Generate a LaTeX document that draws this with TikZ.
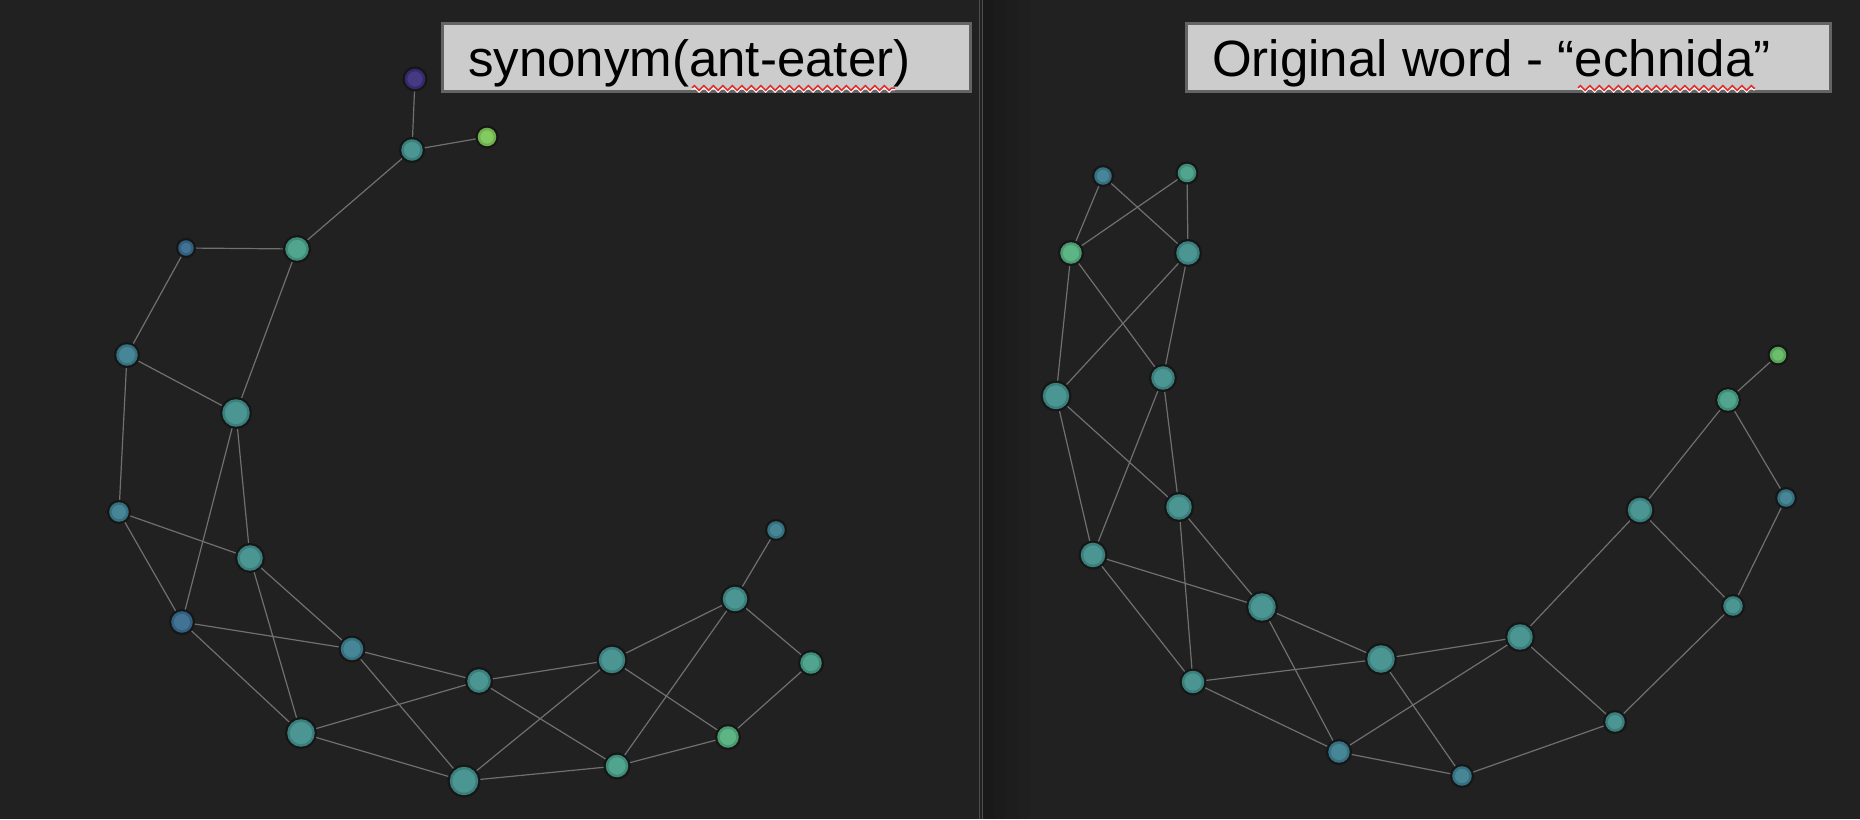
\documentclass[tikz,border=0pt]{standalone}
\usepackage{fontspec}
\setmainfont{Liberation Sans}
\usetikzlibrary{backgrounds,decorations.pathmorphing}

\definecolor{bg}{RGB}{33,33,33}
\definecolor{bgdark}{RGB}{25,25,25}
\definecolor{halo}{RGB}{22,22,22}
\definecolor{edgegray}{RGB}{112,112,112}
\definecolor{divider}{RGB}{78,78,78}
\definecolor{boxgray}{RGB}{204,204,204}
\definecolor{boxedge}{RGB}{100,100,100}
\definecolor{spellred}{RGB}{225,45,45}
\definecolor{vpurple}{RGB}{60,48,124}
\definecolor{vblue}{RGB}{56,108,142}
\definecolor{vblueteal}{RGB}{60,128,146}
\definecolor{vteal}{RGB}{66,144,140}
\definecolor{vgreenteal}{RGB}{72,160,136}
\definecolor{vgreen}{RGB}{84,176,126}
\definecolor{vlime}{RGB}{124,200,88}
\definecolor{vlimetwo}{RGB}{100,186,100}

\tikzset{
	word/.style 2 args={circle, inner sep=0pt, minimum size=2*#2, fill=#1!95!white,
		draw=#1!88!black, line width=2.5pt, preaction={draw=halo, line width=7pt}},
	link/.style={draw=edgegray, line width=1.2pt},
	titlebox/.style={fill=boxgray, draw=boxedge, line width=3pt},
	titletext/.style={anchor=base west, inner sep=0pt, font=\fontsize{51}{60}\selectfont},
	squiggle/.style={line width=1.5pt, decorate,
		decoration={zigzag, segment length=9.5pt, amplitude=2.4pt}},
}

\begin{document}
\begin{tikzpicture}[x=1pt, y=-1pt]

	\useasboundingbox (0,0) rectangle (1860,819);

	% synonym graph (left)
	\node[word={vpurple}{9}]     (s1)  at (415,79)  {};
	\node[word={vteal}{9.5}]     (s2)  at (412,150) {};
	\node[word={vlime}{8}]       (s3)  at (487,137) {};
	\node[word={vgreenteal}{10.5}] (s4) at (297,249) {};
	\node[word={vblue}{6.5}]     (s5)  at (186,248) {};
	\node[word={vblueteal}{9.5}] (s6)  at (127,355) {};
	\node[word={vteal}{12.5}]    (s7)  at (236,413) {};
	\node[word={vblueteal}{8.5}] (s8)  at (119,512) {};
	\node[word={vteal}{11.5}]    (s9)  at (250,558) {};
	\node[word={vblue}{9.5}]     (s10) at (182,622) {};
	\node[word={vblueteal}{10}]  (s11) at (352,649) {};
	\node[word={vteal}{10.5}]    (s12) at (479,681) {};
	\node[word={vteal}{12}]      (s13) at (612,660) {};
	\node[word={vteal}{11}]      (s14) at (735,599) {};
	\node[word={vblueteal}{7.5}] (s15) at (776,530) {};
	\node[word={vgreenteal}{9.5}] (s16) at (811,663) {};
	\node[word={vgreen}{9.5}]    (s17) at (728,737) {};
	\node[word={vgreenteal}{10}] (s18) at (617,766) {};
	\node[word={vteal}{13}]      (s19) at (464,781) {};
	\node[word={vteal}{12.5}]    (s20) at (301,733) {};

	% echnida graph (right)
	\node[word={vblueteal}{7.5}] (e1)  at (1103,176) {};
	\node[word={vgreenteal}{8}]  (e2)  at (1187,173) {};
	\node[word={vgreen}{9.5}]    (e3)  at (1071,253) {};
	\node[word={vteal}{10.5}]    (e4)  at (1188,253) {};
	\node[word={vteal}{12}]      (e5)  at (1056,396) {};
	\node[word={vteal}{10.5}]    (e6)  at (1163,378) {};
	\node[word={vteal}{11.5}]    (e7)  at (1179,507) {};
	\node[word={vteal}{11}]      (e8)  at (1093,555) {};
	\node[word={vteal}{12.5}]    (e9)  at (1262,607) {};
	\node[word={vteal}{10}]      (e10) at (1193,682) {};
	\node[word={vteal}{12.5}]    (e11) at (1381,659) {};
	\node[word={vblueteal}{9.5}] (e12) at (1339,752) {};
	\node[word={vblueteal}{8.5}] (e13) at (1462,776) {};
	\node[word={vteal}{11.5}]    (e14) at (1520,637) {};
	\node[word={vteal}{8.5}]     (e15) at (1615,722) {};
	\node[word={vteal}{11}]      (e16) at (1640,510) {};
	\node[word={vteal}{8.5}]     (e17) at (1733,606) {};
	\node[word={vblueteal}{7.5}] (e18) at (1786,498) {};
	\node[word={vgreenteal}{9.5}] (e19) at (1728,400) {};
	\node[word={vlimetwo}{7}]    (e20) at (1778,355) {};

	\begin{scope}[on background layer]
		\fill[bg] (0,0) rectangle (1860,819);
		% darker strip right of the divider
		\fill[bgdark!100!bg] (982,0) rectangle (994,819);
		\fill[bgdark!75!bg] (994,0) rectangle (1006,819);
		\fill[bgdark!50!bg] (1006,0) rectangle (1018,819);
		\fill[bgdark!25!bg] (1018,0) rectangle (1030,819);
		\draw[divider, line width=1pt] (979,0) -- (979,819);
		\draw[divider, line width=1pt] (982,0) -- (982,819);

		\draw[link] (s1) -- (s2) (s2) -- (s3) (s2) -- (s4) (s5) -- (s4)
			(s5) -- (s6) (s4) -- (s7) (s6) -- (s7) (s6) -- (s8)
			(s7) -- (s10) (s7) -- (s9) (s8) -- (s9) (s8) -- (s10)
			(s9) -- (s11) (s9) -- (s20) (s10) -- (s11) (s10) -- (s20)
			(s11) -- (s12) (s11) -- (s19) (s20) -- (s12) (s20) -- (s19)
			(s12) -- (s13) (s12) -- (s18) (s13) -- (s14) (s13) -- (s19)
			(s13) -- (s17) (s14) -- (s15) (s14) -- (s16) (s14) -- (s18)
			(s16) -- (s17) (s17) -- (s18) (s19) -- (s18);

		\draw[link] (e1) -- (e3) (e1) -- (e4) (e2) -- (e3) (e2) -- (e4)
			(e3) -- (e5) (e3) -- (e6) (e4) -- (e5) (e4) -- (e6)
			(e5) -- (e8) (e5) -- (e7) (e6) -- (e8) (e6) -- (e7)
			(e7) -- (e9) (e7) -- (e10) (e8) -- (e9) (e8) -- (e10)
			(e9) -- (e11) (e9) -- (e12) (e10) -- (e11) (e10) -- (e12)
			(e11) -- (e14) (e11) -- (e13) (e14) -- (e12) (e14) -- (e16)
			(e14) -- (e15) (e12) -- (e13) (e13) -- (e15) (e15) -- (e17)
			(e16) -- (e17) (e16) -- (e19) (e19) -- (e20) (e19) -- (e18)
			(e18) -- (e17);
	\end{scope}

	% title boxes
	\draw[titlebox] (442,23) rectangle (970,91);
	\node[titletext] (syntitle) at (468,76) {synonym(ant-eater)};
	\draw[squiggle, white] (692,89.5) -- (895,89.5);
	\draw[squiggle, spellred] (692,88) -- (895,88);

	\draw[titlebox] (1186,23) rectangle (1830,91);
	\node[titletext] (origtitle) at (1212,76) {Original word - “echnida”};
	\draw[squiggle, white] (1578,89.5) -- (1755,89.5);
	\draw[squiggle, spellred] (1578,88) -- (1755,88);

\end{tikzpicture}
\end{document}
